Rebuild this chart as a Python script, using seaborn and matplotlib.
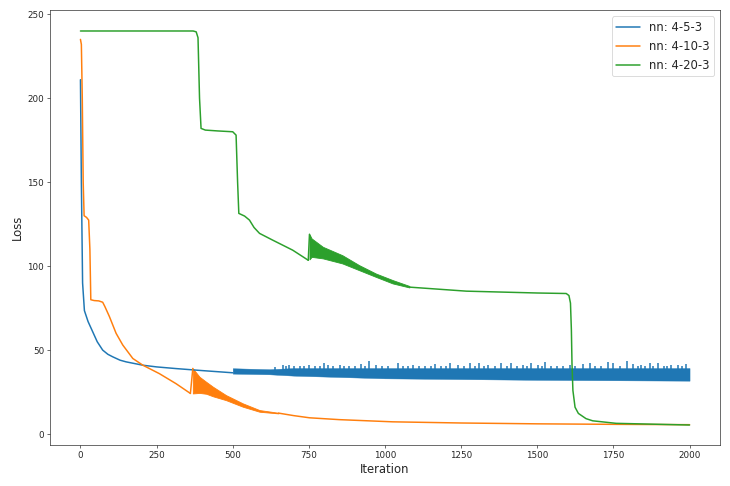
import numpy as np
import pandas as pd
import seaborn as sns
import matplotlib.pyplot as plt

##  Data

#  nn: 4-5-3 (blue)
blue_iter = [0, 3, 7, 13, 25, 40, 55, 73, 90, 106, 130, 150, 205, 250, 314, 400, 500]
blue_loss = [211, 150, 90, 73.5, 67, 61, 55, 50, 47.5, 46, 44, 43, 41, 40, 39, 37.8, 36.5]
#  oscillating band after iteration 500
blue_band_iter = [500, 620, 700, 1000, 1500, 2000]
blue_band_low = [36, 35.6, 34.8, 33.2, 32.3, 31.8]
blue_band_high = [39.2, 38.6, 39.3, 39.3, 39.3, 39.3]
blue_spike_iter = [664, 686, 752, 799, 812, 851, 883, 922, 946, 971, 1042, 1091, 1163,
                   1212, 1239, 1278, 1310, 1338, 1382, 1414, 1453, 1480, 1502, 1526,
                   1606, 1650, 1672, 1732, 1748, 1795, 1814, 1841, 1869, 1896, 1940,
                   1962, 1989]
blue_spike_top = [41.1, 41, 41, 42.1, 41, 41, 40.5, 41.7, 43.5, 41, 42.4, 41, 41.7,
                  42.1, 41, 42.1, 42.4, 41, 42.1, 42.1, 41, 42.4, 41, 43,
                  41, 41.7, 42.1, 43, 42.4, 43.5, 41.7, 41, 42.1, 42.1, 41,
                  41, 41.7]
#  smaller ripples along the top of the band
blue_ripple_iter = [640, 675, 700, 720, 735, 770, 785, 830, 865, 900, 935, 990, 1010,
                    1060, 1075, 1110, 1130, 1150, 1185, 1200, 1260, 1295, 1325, 1360,
                    1400, 1435, 1465, 1515, 1545, 1565, 1585, 1625, 1690, 1710, 1770,
                    1830, 1855, 1880, 1915, 1925, 1975]
blue_ripple_top = [40.2, 40.5, 40.3, 40.6, 40.4, 40.7, 40.5, 40.6, 40.4, 40.8, 40.5,
                   40.6, 40.3, 40.7, 40.5, 40.4, 40.8, 40.5, 40.6, 40.4, 40.7, 40.5,
                   40.6, 40.8, 40.4, 40.6, 40.5, 40.7, 40.6, 40.4, 40.8, 40.5, 40.7,
                   40.5, 40.6, 40.8, 40.5, 40.4, 40.7, 40.6, 40.5]

#  nn: 4-10-3 (orange)
orange_iter = [0, 3, 6, 9, 12, 20, 27, 31, 34, 45, 60, 73, 80, 95, 117, 139, 172, 205,
               259, 314, 361]
orange_loss = [235, 232, 200, 150, 130, 129, 127.4, 110, 80, 79.5, 79.3, 78.5, 76, 70,
               60, 53, 45, 41, 36, 30, 24.2]
orange_band_iter = [369, 391, 413, 435, 478, 533, 588, 650]
orange_band_low = [24.2, 24.5, 24, 22.5, 20.2, 16.3, 13.3, 12.3]
orange_band_high = [39.1, 34.1, 31.1, 28.2, 23.2, 18.3, 14.3, 12.7]
orange_tail_iter = [650, 700, 752, 850, 1025, 1250, 1500, 1750, 2000]
orange_tail_loss = [12.5, 11, 9.7, 8.6, 7.3, 6.6, 6.1, 5.8, 5.6]

#  nn: 4-20-3 (green)
green_iter = [0, 370, 380, 386, 391, 396, 410, 450, 500, 511, 516, 520, 539, 555, 570,
              588, 631, 697, 748]
green_loss = [240, 240, 239.5, 236, 200, 182, 181, 180.5, 180, 178, 150, 131.4, 129.8,
              127.4, 123, 119.5, 115.5, 109.5, 103.5]
green_band_iter = [752, 759, 796, 860, 915, 970, 1025, 1080]
green_band_low = [104, 105.5, 104.6, 101.6, 97.6, 93.6, 89.7, 87.3]
green_band_high = [119, 116.5, 111.5, 106.5, 100.6, 95.6, 91.7, 88.2]
green_tail_iter = [1080, 1267, 1500, 1595, 1604, 1609, 1612, 1614, 1617, 1624, 1635,
                   1660, 1682, 1759, 2000]
green_tail_loss = [87.5, 85.1, 84, 83.7, 82.5, 78, 62, 42, 26, 16, 12.3, 9.2, 7.9, 6.4,
                   5.4]

labels = ['nn: 4-5-3', 'nn: 4-10-3', 'nn: 4-20-3']
colors = ['#1f77b4', '#ff7f0e', '#2ca02c']


##  Figure
sns.set_style('ticks')
plt.rcParams['lines.linewidth'] = 1.8
fig = plt.figure(figsize=(7.3 / 0.6, 4.86 / 0.6), dpi=60)
ax = fig.add_axes([50 / 730, 41 / 486, 670 / 730, 434.5 / 486])

#  Smooth parts (carry the legend labels)
sns.lineplot(x=blue_iter, y=blue_loss, color=colors[0], label=labels[0],
             estimator=None, ax=ax)
sns.lineplot(x=orange_iter, y=orange_loss, color=colors[1], label=labels[1],
             estimator=None, ax=ax)
sns.lineplot(x=green_iter, y=green_loss, color=colors[2], label=labels[2],
             estimator=None, ax=ax)
sns.lineplot(x=orange_tail_iter, y=orange_tail_loss, color=colors[1],
             estimator=None, ax=ax)
sns.lineplot(x=green_tail_iter, y=green_tail_loss, color=colors[2],
             estimator=None, ax=ax)

#  Oscillating bands
ax.fill_between(blue_band_iter, blue_band_low, blue_band_high, color=colors[0], lw=0.5)
ax.vlines(blue_spike_iter, 35, blue_spike_top, color=colors[0], lw=1.8)
ax.vlines(blue_ripple_iter, 35, blue_ripple_top, color=colors[0], lw=1.8)
ax.fill_between(orange_band_iter, orange_band_low, orange_band_high, color=colors[1], lw=1)
ax.plot([361, 369], [24.2, 39.1], color=colors[1])
ax.fill_between(green_band_iter, green_band_low, green_band_high, color=colors[2], lw=1)
ax.plot([748, 752], [103.5, 119], color=colors[2])

ax.set_xlim(-100, 2100)
ax.set_ylim(-6.5, 252.2)
ax.set_xticks([0, 250, 500, 750, 1000, 1250, 1500, 1750, 2000])
ax.set_yticks([0, 50, 100, 150, 200, 250])
ax.tick_params(labelsize=10.5)
ax.set_xlabel('Iteration', fontsize=14)
ax.set_ylabel('Loss', fontsize=14)
ax.legend(loc='upper right', fontsize=14)

fig.savefig('out.png', dpi=60)
